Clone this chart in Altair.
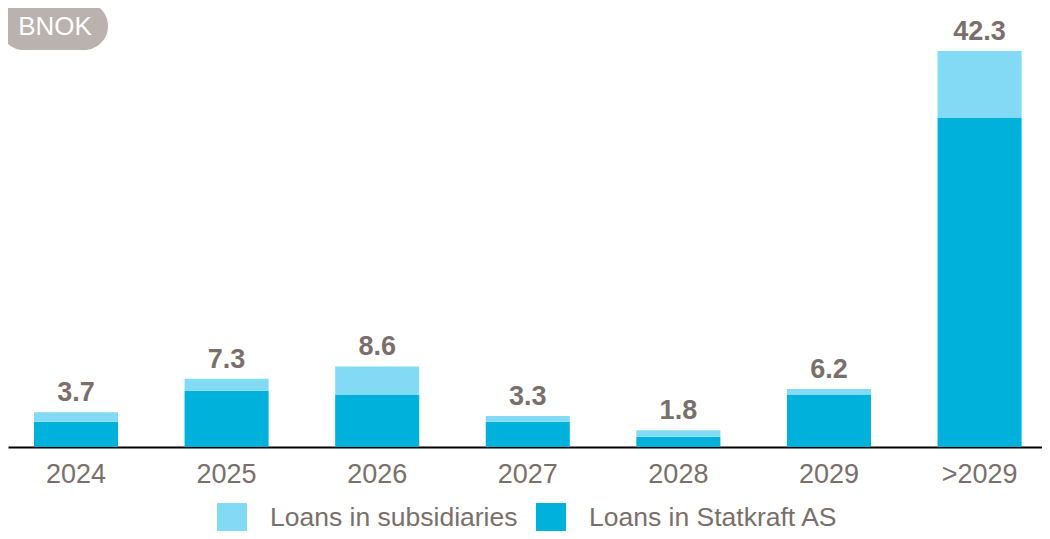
import altair as alt
import pandas as pd

years = ["2024", "2025", "2026", "2027", "2028", "2029", ">2029"]
statkraft_as = [2.7, 6.0, 5.6, 2.7, 1.1, 5.6, 35.2]
subsidiaries = [1.0, 1.3, 3.0, 0.6, 0.7, 0.6, 7.1]
totals = [3.7, 7.3, 8.6, 3.3, 1.8, 6.2, 42.3]
series_names = ["Loans in subsidiaries", "Loans in Statkraft AS"]
series_colors = ["#82daf4", "#00b1dc"]

FONT = "Liberation Sans"
GRAY = "#7a706b"

rows = []
for y, a, s in zip(years, statkraft_as, subsidiaries):
    rows.append({"year": y, "series": "Loans in Statkraft AS", "value": a, "ord": 0})
    rows.append({"year": y, "series": "Loans in subsidiaries", "value": s, "ord": 1})
df = pd.DataFrame(rows)
tot = pd.DataFrame({"year": years, "total": totals, "label": [f"{t:.1f}" for t in totals]})

xscale = alt.Scale(domain=years, paddingInner=0.442, paddingOuter=0.154, align=0.56, round=False)
yscale = alt.Scale(domain=[0, 42.3], nice=False, zero=True)

bars = alt.Chart(df).mark_bar().encode(
    x=alt.X("year:N", scale=xscale, sort=years,
            axis=alt.Axis(title=None, labelAngle=0, ticks=False, domainColor="#000000",
                          domainWidth=2, labelFontSize=27, labelColor=GRAY, labelFont=FONT,
                          labelPadding=14, grid=False)),
    y=alt.Y("value:Q", scale=yscale, stack="zero", axis=None),
    color=alt.Color("series:N",
                    scale=alt.Scale(domain=series_names, range=series_colors),
                    legend=alt.Legend(title=None, orient="none", legendX=209, legendY=452,
                                      direction="horizontal", symbolType="square",
                                      symbolSize=900, symbolStrokeWidth=0,
                                      labelFontSize=26.5, labelFont=FONT, labelColor=GRAY,
                                      labelOffset=23, columnPadding=18, symbolOpacity=1,
                                      labelLimit=400)),
    order=alt.Order("ord:Q"),
)

labels = alt.Chart(tot).mark_text(
    baseline="alphabetic", dy=-11, fontSize=27, fontWeight="bold", font=FONT, color=GRAY
).encode(
    x=alt.X("year:N", scale=xscale, sort=years),
    y=alt.Y("total:Q", scale=yscale),
    text="label:N",
)

badge_df = pd.DataFrame({"t": ["BNOK"]})
badge = alt.Chart(badge_df).mark_rect(color="#b9b2ae", cornerRadius=24).encode(
    x=alt.value(-8), x2=alt.value(100), y=alt.value(-49), y2=alt.value(-1)
)
badge_text = alt.Chart(badge_df).mark_text(
    fontSize=26, font=FONT, color="#ffffff", align="center", baseline="middle"
).encode(x=alt.value(47), y=alt.value(-24), text="t:N")

chart = alt.layer(bars, labels, badge, badge_text).properties(
    width=1034, height=396,
    autosize=alt.AutoSizeParams(type="none"),
    padding={"left": 0, "top": 43, "right": 0, "bottom": 84},
).configure_view(stroke=None).configure_axis(grid=False)

chart.save("out.html", embed_options={"renderer": "svg", "actions": False})
